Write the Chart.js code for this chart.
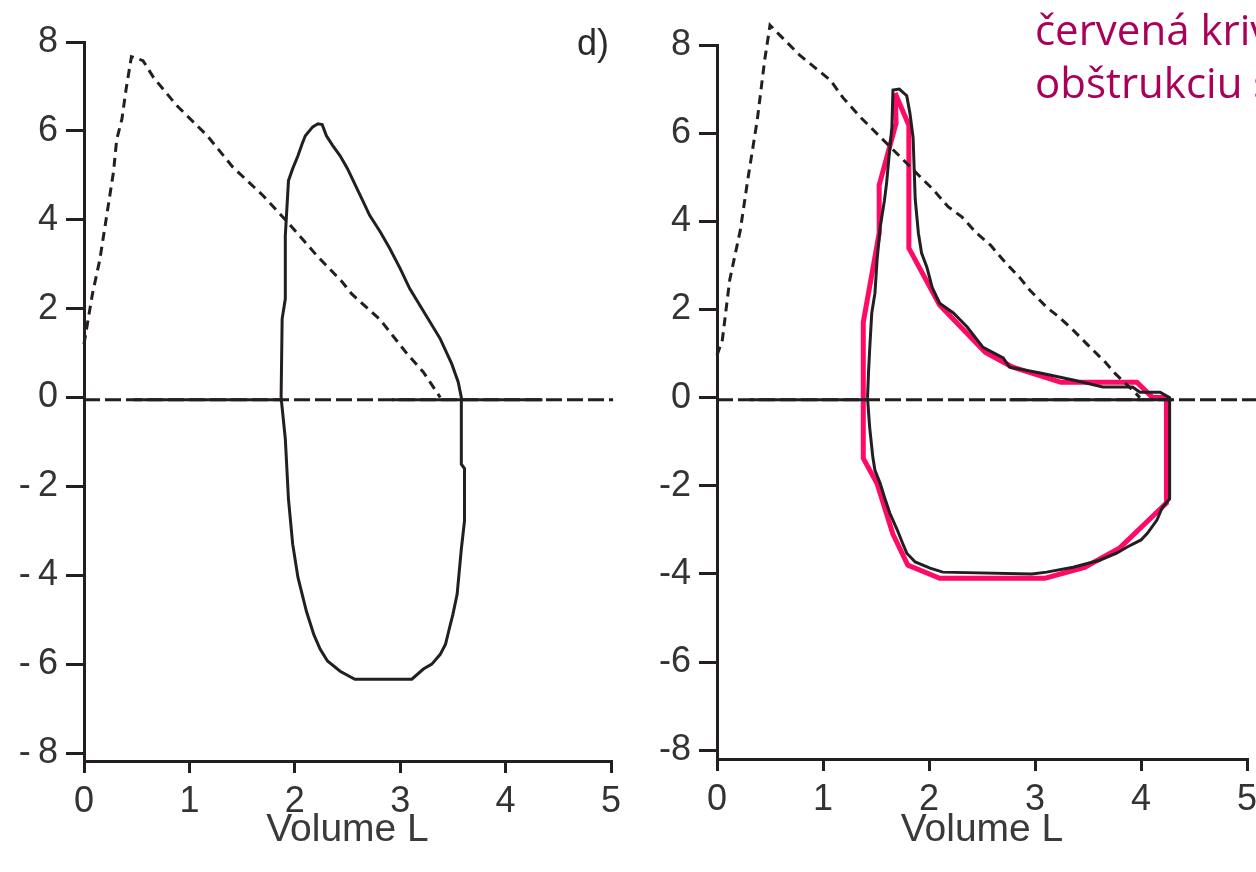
<!DOCTYPE html>
<html>
<head>
<meta charset="utf-8">
<script src="https://cdn.jsdelivr.net/npm/chart.js@4.4.1/dist/chart.umd.min.js"></script>
<style>
  html, body { margin: 0; padding: 0; background: #fff; overflow: hidden; }
  body { width: 1256px; height: 872px; position: relative; }
  canvas { position: absolute; top: 0; }
  #left { left: 0; }
  #right { left: 633px; }
  .tag { position: absolute; font-family: "Liberation Sans", Arial, sans-serif; font-size: 36px; color: #2a2a2a; }
  .note { position: absolute; left: 1035px; font-family: "Open Sans", sans-serif; font-size: 42px; color: #ab005a; white-space: nowrap; line-height: 53px; }
</style>
</head>
<body>
<canvas id="left" width="640" height="872"></canvas>
<canvas id="right" width="680" height="872"></canvas>
<div class="tag" style="left:577px; top:22px;">d)</div>
<div class="note" style="top:2px;">červená kriv<br>obštrukciu s</div>
<script>
// axis ticks
const volumeTicks = [0, 1, 2, 3, 4, 5];
const flowTicks = [-8, -6, -4, -2, 0, 2, 4, 6, 8];

// left: predicted curve (dashed) and measured loop
const leftPredVol  = [0, 0.08, 0.15, 0.2, 0.28, 0.31, 0.36, 0.4, 0.45, 0.56, 0.66, 0.88, 1.17, 1.41, 1.7, 1.93, 2.21, 2.45, 2.54, 2.81, 3.06, 3.22, 3.38];
const leftPredFlow = [1.2, 2.33, 3.1, 3.86, 5.08, 5.8, 6.27, 6.95, 7.67, 7.58, 7.2, 6.57, 5.89, 5.19, 4.54, 3.95, 3.19, 2.6, 2.33, 1.75, 1.0, 0.57, 0];

const leftLoopVol  = [1.87, 1.88, 1.91, 1.91, 1.94, 1.98, 2.03, 2.07, 2.1, 2.17, 2.22, 2.26, 2.3, 2.36, 2.43, 2.5, 2.59, 2.65, 2.71, 2.81, 2.9, 3.0, 3.09, 3.38, 3.49, 3.55, 3.58,
                      3.58, 3.61, 3.61, 3.58, 3.54, 3.5, 3.46, 3.43, 3.38, 3.3, 3.22, 3.11, 2.57, 2.43, 2.31, 2.24, 2.18, 2.11, 2.03, 1.98, 1.94, 1.91, 1.87];
const leftLoopFlow = [0, 1.77, 2.22, 3.64, 4.88, 5.15, 5.44, 5.71, 5.89, 6.09, 6.16, 6.14, 5.89, 5.67, 5.44, 5.15, 4.7, 4.4, 4.1, 3.73, 3.36, 2.9, 2.45, 1.32, 0.75, 0.35, 0,
                      -1.5, -1.6, -2.78, -3.41, -4.43, -4.88, -5.26, -5.55, -5.78, -6.0, -6.11, -6.34, -6.34, -6.16, -5.93, -5.66, -5.33, -4.81, -4.05, -3.3, -2.29, -0.93, 0];

// zero line: full dashed run plus the solid stretches
const leftZeroDash  = [0, 5.02];
const leftZeroSolid = [[0.47, 1.87], [2.92, 4.35]];

// right: predicted curve, measured loop, hand-drawn red outline
const rightPredVol  = [0, 0.05, 0.12, 0.22, 0.29, 0.38, 0.45, 0.5, 0.59, 0.78, 1.07, 1.19, 1.35, 1.52, 1.73, 1.9, 2.04, 2.18, 2.31, 2.45, 2.58, 2.7, 2.86, 2.95, 3.11, 3.24, 3.36, 3.5, 3.66, 3.75, 3.92, 3.99];
const rightPredFlow = [0.96, 1.3, 2.67, 3.8, 4.94, 6.3, 7.66, 8.45, 8.23, 7.77, 7.2, 6.8, 6.37, 5.96, 5.46, 5.05, 4.72, 4.33, 4.1, 3.73, 3.46, 3.12, 2.71, 2.44, 2.05, 1.8, 1.53, 1.19, 0.81, 0.56, 0.17, 0];

const rightLoopVol  = [1.42, 1.43, 1.44, 1.46, 1.49, 1.51, 1.54, 1.58, 1.6, 1.62, 1.65, 1.66, 1.72, 1.79, 1.82, 1.85, 1.87, 1.9, 1.93, 1.98, 2.03, 2.1, 2.23, 2.36, 2.51, 2.7, 2.76, 3.05, 3.36, 3.64, 3.92, 3.99, 4.18, 4.27,
                       4.27, 4.2, 4.15, 4.06, 4.0, 3.87, 3.77, 3.61, 3.36, 3.11, 2.97, 2.13, 2.01, 1.87, 1.79, 1.75, 1.7, 1.63, 1.58, 1.54, 1.49, 1.47, 1.44, 1.42];
const rightLoopFlow = [0, 0.6, 1.08, 1.92, 2.37, 3.12, 3.87, 4.48, 4.87, 5.39, 6.14, 6.98, 7.0, 6.85, 6.45, 5.9, 4.5, 3.73, 3.28, 2.96, 2.5, 2.14, 1.92, 1.6, 1.14, 0.9, 0.69, 0.56, 0.4, 0.24, 0.24, 0.12, 0.12, 0,
                       -2.3, -2.5, -2.78, -3.08, -3.23, -3.39, -3.53, -3.69, -3.85, -3.96, -4.0, -3.96, -3.87, -3.73, -3.53, -3.3, -3.0, -2.62, -2.26, -1.95, -1.65, -1.35, -0.67, 0];

const redVol  = [1.68, 1.81, 1.81, 2.1, 2.53, 2.79, 3.24, 3.96, 4.11, 4.24, 4.24, 3.8, 3.47, 3.09, 2.1, 1.8, 1.66, 1.51, 1.38, 1.38, 1.53, 1.53, 1.69, 1.68];
const redFlow = [6.91, 6.18, 3.39, 2.1, 1.03, 0.69, 0.35, 0.35, 0, 0, -2.39, -3.41, -3.85, -4.1, -4.1, -3.8, -3.1, -1.95, -1.38, 1.71, 3.73, 4.82, 6.23, 6.91];

const rightZeroDash  = [0, 5.2];
const rightZeroSolid = [[0.31, 1.42], [2.76, 4.29]];

const INK = '#231f20';
const RED = '#ff0a66';
const ZERO_Y = -0.05;

const pts = (xs, ys) => xs.map((x, i) => ({ x: x, y: ys[i] }));

// runs along the zero line, separated by a gap point so the line breaks
function zeroRuns(runs) {
    const out = [];
    runs.forEach(r => {
        out.push({ x: r[0], y: ZERO_Y }, { x: r[1], y: ZERO_Y }, { x: r[1], y: null });
    });
    return out;
}

function line(data, opts) {
    return Object.assign({
        data: data,
        showLine: true,
        pointRadius: 0,
        borderColor: INK,
        borderWidth: 3,
        fill: false,
        tension: 0,
        spanGaps: false,
        clip: false
    }, opts || {});
}

function makeChart(id, datasets, box) {
    const ctx = document.getElementById(id).getContext('2d');
    return new Chart(ctx, {
        type: 'scatter',
        data: { datasets: datasets },
        options: {
            responsive: false,
            animation: false,
            events: [],
            layout: { padding: { left: 0, right: box.right, top: box.top, bottom: 0 } },
            plugins: { legend: { display: false }, tooltip: { enabled: false } },
            scales: {
                x: {
                    type: 'linear',
                    min: 0,
                    max: 5,
                    afterBuildTicks: axis => { axis.ticks = volumeTicks.map(v => ({ value: v })); },
                    afterFit: axis => { axis.height = box.xHeight; },
                    border: { display: true, color: INK, width: 3 },
                    grid: { drawOnChartArea: false, drawTicks: true, tickLength: 12, color: INK, lineWidth: 3 },
                    ticks: { color: '#333', padding: 7, font: { family: 'Liberation Sans', size: 36 }, maxRotation: 0 },
                    title: {
                        display: true,
                        text: 'Volume L',
                        color: '#3a3a3a',
                        font: { family: 'Liberation Sans', size: 39 },
                        padding: { top: 0, bottom: 18 }
                    }
                },
                y: {
                    type: 'linear',
                    min: box.yMin,
                    max: 8,
                    afterBuildTicks: axis => { axis.ticks = flowTicks.map(v => ({ value: v })); },
                    afterFit: axis => { axis.width = 84; },
                    border: { display: true, color: INK, width: 3 },
                    grid: { drawOnChartArea: false, drawTicks: true, tickLength: 18, color: INK, lineWidth: 3 },
                    ticks: {
                        color: '#333',
                        padding: 8,
                        font: { family: 'Liberation Sans', size: 36 },
                        callback: v => v < 0 ? '-' + box.minusGap + Math.abs(v) : String(v)
                    }
                }
            }
        }
    });
}

makeChart('left', [
    line(pts(leftLoopVol, leftLoopFlow)),
    line(pts(leftPredVol, leftPredFlow), { borderDash: [9, 6] }),
    line(leftZeroDash.map(x => ({ x: x, y: ZERO_Y })), { borderDash: [16, 5] }),
    line(zeroRuns(leftZeroSolid))
], { right: 29, top: 42, yMin: -8.18, xHeight: 111, minusGap: '\u2009' });

makeChart('right', [
    line(pts(rightLoopVol, rightLoopFlow)),
    line(pts(rightPredVol, rightPredFlow), { borderDash: [9, 6] }),
    line(rightZeroDash.map(x => ({ x: x, y: ZERO_Y })), { borderDash: [16, 5] }),
    line(zeroRuns(rightZeroSolid)),
    line(pts(redVol, redFlow), { borderColor: RED, borderWidth: 5, borderJoinStyle: 'round' })
], { right: 680 - 614, top: 45, yMin: -8.2, xHeight: 113, minusGap: '' });
</script>
</body>
</html>
